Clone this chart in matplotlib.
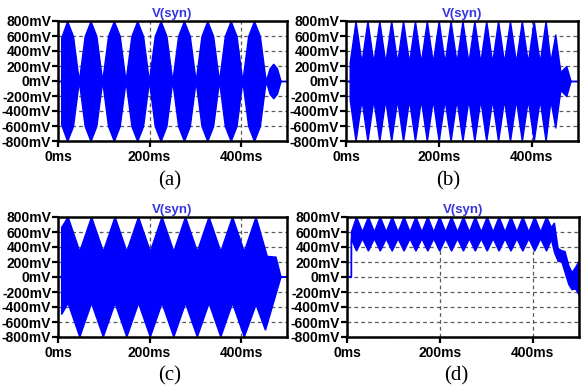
import matplotlib
matplotlib.use("Agg")
import matplotlib.pyplot as plt

plt.rcParams["font.family"] = ["Liberation Sans", "DejaVu Sans"]

# axis ticks / labels
x_ticks = [0, 200, 400]
x_labels = ["0ms", "200ms", "400ms"]
y_ticks = [800, 600, 400, 200, 0, -200, -400, -600, -800]
y_labels = ["800mV", "600mV", "400mV", "200mV", "0mV",
            "-200mV", "-400mV", "-600mV", "-800mV"]
captions = ["(a)", "(b)", "(c)", "(d)"]
trace_name = "V(syn)"

# (a) envelope amplitude (mV) vs time (ms), symmetric about 0
t_a = [0, 6.9, 7,
       20, 32.75, 45.5, 58.25,
       71, 83.75, 96.5, 109.25,
       122, 134.75, 147.5, 160.25,
       173, 185.75, 198.5, 211.25,
       224, 236.75, 249.5, 262.25,
       275, 287.75, 300.5, 313.25,
       326, 338.75, 351.5, 364.25,
       377, 389.75, 402.5, 415.25,
       428, 440.75, 453.5,
       462, 470, 478, 486, 500]
amp_a = [0, 0, 580,
         800, 600, 0, 600,
         800, 600, 0, 600,
         800, 600, 0, 600,
         800, 600, 0, 600,
         800, 600, 0, 600,
         800, 600, 0, 600,
         800, 600, 0, 600,
         800, 600, 0, 600,
         800, 600, 0,
         170, 230, 170, 0, 0]

# (b) envelope amplitude, symmetric
t_b = [0, 7.9, 8.0,
       20.6, 33.4, 46.2, 59.0, 71.8, 84.6, 97.4, 110.2,
       123.0, 135.8, 148.6, 161.4, 174.2, 187.0, 199.8, 212.6,
       225.4, 238.2, 251.0, 263.8, 276.6, 289.4, 302.2, 315.0,
       327.8, 340.6, 353.4, 366.2, 379.0, 391.8, 404.6, 417.4,
       430.2, 440.6, 451.0, 462.0, 474.7, 484.0, 500]
amp_b = [0, 0, 250,
         800, 250, 800, 250, 800, 250, 800, 250,
         800, 250, 800, 250, 800, 250, 800, 250,
         800, 250, 800, 250, 800, 250, 800, 250,
         800, 250, 800, 250, 800, 250, 800, 250,
         800, 260, 620, 120, 200, 0, 0]

# (c) upper / lower envelopes
tu_c = [0, 7.9, 8, 22, 47.6, 73.3, 99, 124.6, 150.3, 175.9, 201.6, 227.2,
        252.9, 278.5, 304.2, 329.8, 355.5, 381.1, 406.8, 432.4, 457, 476, 487, 500]
vu_c = [0, 0, 660, 800, 340, 800, 340, 800, 340, 800, 340, 800,
        340, 800, 340, 800, 340, 800, 340, 800, 275, 265, 0, 0]
tl_c = [0, 7.9, 8, 22, 47.6, 73.3, 99, 124.6, 150.3, 175.9, 201.6, 227.2,
        252.9, 278.5, 304.2, 329.8, 355.5, 381.1, 406.8, 432.4, 453, 487, 500]
vl_c = [0, 0, -500, -350, -800, -350, -800, -350, -800, -350, -800, -350,
        -800, -350, -800, -350, -800, -350, -800, -370, -710, 0, 0]

# (d) upper / lower envelopes
tu_d = [0, 9.5, 9.6,
        20.6, 33.4, 46.2, 59.0, 71.8, 84.6, 97.4, 110.2,
        123.0, 135.8, 148.6, 161.4, 174.2, 187.0, 199.8, 212.6,
        225.4, 238.2, 251.0, 263.8, 276.6, 289.4, 302.2, 315.0,
        327.8, 340.6, 353.4, 366.2, 379.0, 391.8, 404.6, 417.4,
        430.2, 440.6, 447, 455, 463, 470, 478, 485, 493, 500]
vu_d = [0, 0, 600,
        800, 600, 800, 600, 800, 600, 800, 600,
        800, 600, 800, 600, 800, 600, 800, 600,
        800, 600, 800, 600, 800, 600, 800, 600,
        800, 600, 800, 600, 800, 600, 800, 600,
        800, 660, 720, 380, 350, 340, 150, 60, 130, 210]
tl_d = tu_d
vl_d = [0, 0, 510,
        345, 510, 345, 510, 345, 510, 345, 510,
        345, 510, 345, 510, 345, 510, 345, 510,
        345, 510, 345, 510, 345, 510, 345, 510,
        345, 510, 345, 510, 345, 510, 345, 510,
        345, 500, 330, 210, 200, 60, -100, -170, -160, -240]

W, H = 588, 390
boxes = [(58, 21, 287, 141), (346, 21, 578, 141),
         (58, 217, 287, 337), (347, 217, 579, 337)]
cap_pos = [(170, 181), (448, 181), (170, 376), (456, 376)]

BLUE = "#0000ff"

fig = plt.figure(figsize=(W / 100, H / 100), dpi=100)

def make_ax(box):
    l, t, r, b = box
    ax = fig.add_axes([l / W, 1 - b / H, (r - l) / W, (b - t) / H])
    ax.set_xlim(0, 500)
    ax.set_ylim(-800, 800)
    ax.set_xticks(x_ticks, x_labels)
    ax.set_yticks(y_ticks, y_labels)
    ax.tick_params(direction="out", length=4.5, width=1.6, labelsize=10,
                   colors="black")
    ax.tick_params(axis="y", pad=0.3)
    ax.tick_params(axis="x", pad=2)
    for lab in ax.get_xticklabels() + ax.get_yticklabels():
        lab.set_fontweight("bold")
    for s in ax.spines.values():
        s.set_linewidth(1.8)
        s.set_color("black")
    ax.grid(True, color="#5a5a5a", linestyle=(0, (3, 2.5)), linewidth=0.9)
    ax.set_axisbelow(True)
    ax.set_title(trace_name, color="#3535e0", fontsize=9.5, fontweight="bold", pad=3)
    return ax

axes = [make_ax(b) for b in boxes]

axes[0].fill_between(t_a, [-v for v in amp_a], amp_a, color=BLUE, lw=1.0, edgecolor=BLUE)
axes[1].fill_between(t_b, [-v for v in amp_b], amp_b, color=BLUE, lw=1.0, edgecolor=BLUE)
axes[2].fill(tu_c + tl_c[::-1], vu_c + vl_c[::-1], color=BLUE, lw=1.0, edgecolor=BLUE)
axes[3].fill(tu_d + tl_d[::-1], vu_d + vl_d[::-1], color=BLUE, lw=1.0, edgecolor=BLUE)

for (cx, cy), cap in zip(cap_pos, captions):
    fig.text(cx / W, 1 - cy / H, cap, ha="center", va="center",
             family=["Liberation Serif", "DejaVu Serif"], fontsize=15)

fig.savefig("out.png", dpi=100)
